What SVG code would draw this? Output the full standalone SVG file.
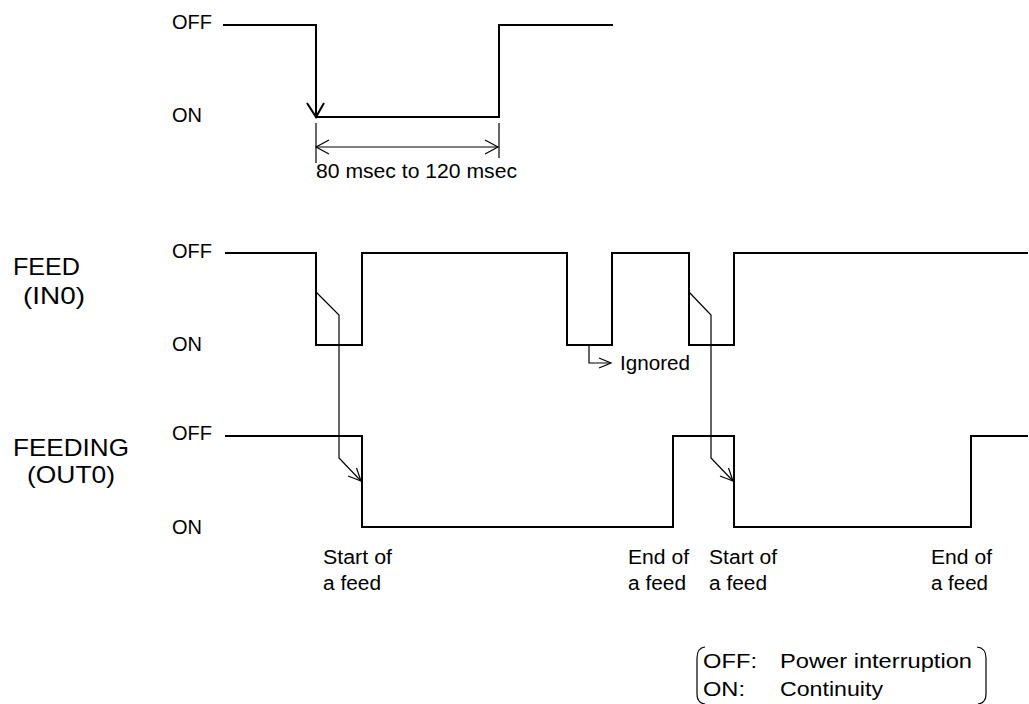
<svg xmlns="http://www.w3.org/2000/svg" width="1029" height="704" viewBox="0 0 1029 704">
<style>
text{font-family:"Liberation Sans",Arial,sans-serif;fill:#000}
.s{font-size:20px}
.b{font-size:24px}
.l{font-size:21px}
.w{fill:none;stroke:#000;stroke-width:2;stroke-linejoin:miter}
.t{fill:none;stroke:#000;stroke-width:1.2}
</style>
<rect width="1029" height="704" fill="#fff"/>
<g id="labels">
<text class="s" x="172" y="29" textLength="40" lengthAdjust="spacingAndGlyphs">OFF</text>
<text class="s" x="172" y="122" textLength="30" lengthAdjust="spacingAndGlyphs">ON</text>
<text class="b" x="13" y="275" textLength="67" lengthAdjust="spacingAndGlyphs">FEED</text>
<text class="b" x="23" y="304" textLength="62" lengthAdjust="spacingAndGlyphs">(IN0)</text>
<text class="s" x="172" y="258" textLength="40" lengthAdjust="spacingAndGlyphs">OFF</text>
<text class="s" x="172" y="351" textLength="30" lengthAdjust="spacingAndGlyphs">ON</text>
<text class="b" x="13" y="456" textLength="116" lengthAdjust="spacingAndGlyphs">FEEDING</text>
<text class="b" x="27" y="483" textLength="88" lengthAdjust="spacingAndGlyphs">(OUT0)</text>
<text class="s" x="172" y="440" textLength="40" lengthAdjust="spacingAndGlyphs">OFF</text>
<text class="s" x="172" y="534" textLength="30" lengthAdjust="spacingAndGlyphs">ON</text>
</g>
<g id="wave-top">
<path class="w" d="M223,25 H316 V117 H499 V25 H613"/>
<polyline class="w" points="307,103 316,117 324,103"/>
</g>
<g id="dimension">
<line class="t" x1="316" y1="123" x2="316" y2="163"/>
<line class="t" x1="499" y1="123" x2="499" y2="158"/>
<line class="t" x1="316" y1="147" x2="498" y2="147"/>
<polyline class="t" points="329,140 316,147 329,154"/>
<polyline class="t" points="485,140 498,147 485,154"/>
<text class="s" x="316" y="178" textLength="201" lengthAdjust="spacingAndGlyphs">80 msec to 120 msec</text>
</g>
<g id="wave-feed">
<path class="w" d="M225,253 H316 V345 H362 V253 H567 V345 H612 V253 H689 V345 H734 V253 H1028"/>
</g>
<g id="wave-feeding">
<path class="w" d="M225,436 H362 V527 H673 V436 H734 V527 H971 V436 H1028"/>
</g>
<g id="connectors">
<path class="t" d="M316,292 L339,315 V458 L361,481"/>
<polyline class="t" points="348,476 361,481 356.5,468"/>
<path class="t" d="M689,292 L711,315 V458 L733,481"/>
<polyline class="t" points="720,476 733,481 728.5,468"/>
<path class="t" d="M589,345 V363 H611"/>
<polyline class="t" points="599,358 611,363 599,368"/>
</g>
<g id="annotations">
<text class="s" x="620" y="370" textLength="70" lengthAdjust="spacingAndGlyphs">Ignored</text>
<text class="s" x="323" y="564" textLength="69" lengthAdjust="spacingAndGlyphs">Start of</text>
<text class="s" x="323" y="590" textLength="58" lengthAdjust="spacingAndGlyphs">a feed</text>
<text class="s" x="628" y="564" textLength="61" lengthAdjust="spacingAndGlyphs">End of</text>
<text class="s" x="628" y="590" textLength="58" lengthAdjust="spacingAndGlyphs">a feed</text>
<text class="s" x="709" y="564" textLength="68" lengthAdjust="spacingAndGlyphs">Start of</text>
<text class="s" x="709" y="590" textLength="58" lengthAdjust="spacingAndGlyphs">a feed</text>
<text class="s" x="931" y="564" textLength="61" lengthAdjust="spacingAndGlyphs">End of</text>
<text class="s" x="931" y="590" textLength="57" lengthAdjust="spacingAndGlyphs">a feed</text>
</g>
<g id="legend">
<path class="t" d="M705,647 Q697,648 697,658 V694 Q697,703 705,704"/>
<path class="t" d="M977,647 Q986,648 986,658 V694 Q986,703 978,704"/>
<text class="l" x="703" y="668" textLength="54" lengthAdjust="spacingAndGlyphs">OFF:</text>
<text class="l" x="780" y="668" textLength="192" lengthAdjust="spacingAndGlyphs">Power interruption</text>
<text class="l" x="703" y="696" textLength="42" lengthAdjust="spacingAndGlyphs">ON:</text>
<text class="l" x="780" y="696" textLength="103" lengthAdjust="spacingAndGlyphs">Continuity</text>
</g>
</svg>
